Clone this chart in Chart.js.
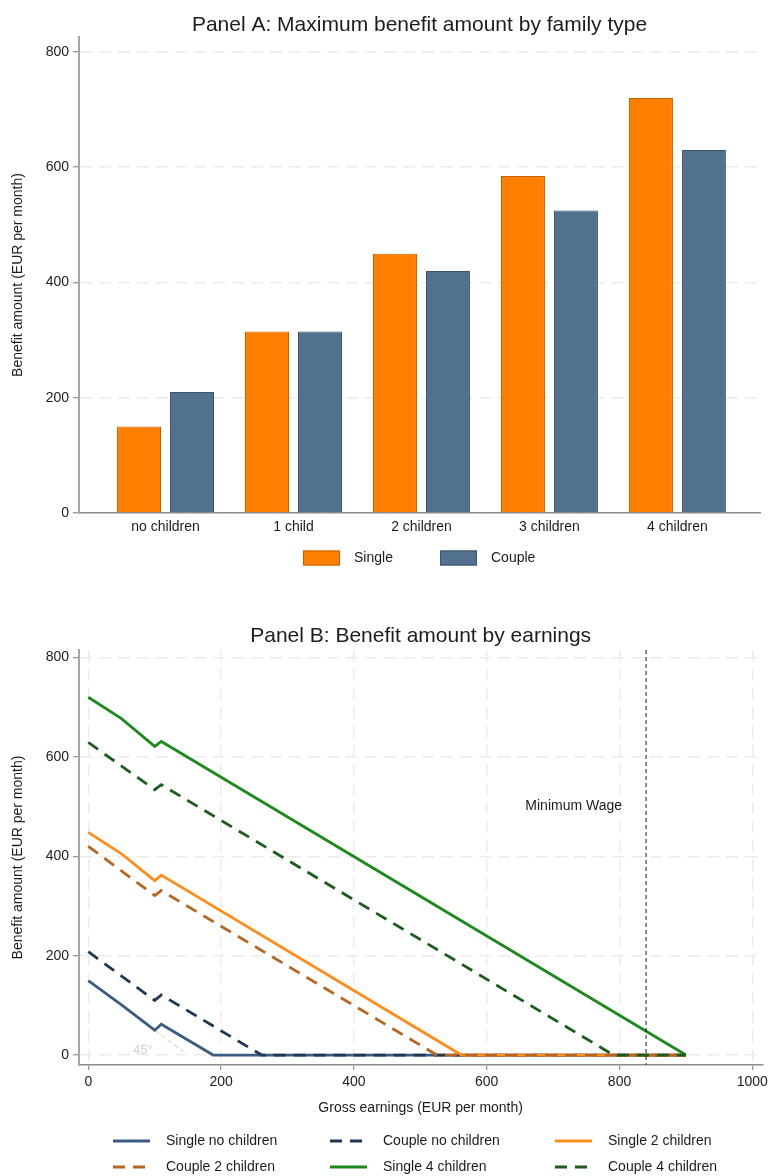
<!DOCTYPE html>
<html lang="en">
<head>
<meta charset="UTF-8">
<title>Benefit amounts</title>
<script src="https://cdn.jsdelivr.net/npm/chart.js"></script>
<style>
  body { margin: 0; background: #fff; }
  #wrap { position: relative; width: 772px; height: 1176px; overflow: hidden; }
  #panelA { position: absolute; left: 0; top: 0; }
  #panelB { position: absolute; left: 0; top: 590px; }
</style>
</head>
<body>
<div id="wrap">
  <canvas id="panelA" width="772" height="590"></canvas>
  <canvas id="panelB" width="772" height="586"></canvas>
</div>
<script>
// Panel A: maximum benefit by family type
const categories = ['no children', '1 child', '2 children', '3 children', '4 children'];
const singleMax = [150, 315, 450, 585, 720];
const coupleMax = [210, 315, 420, 525, 630];

// Panel B: benefit schedule by gross earnings (breakpoints)
const singleNoKidsX = [0, 50, 100, 110, 188, 900];
const singleNoKidsY = [150, 101, 50, 62, 0, 0];
const coupleNoKidsX = [0, 100, 110, 261, 900];
const coupleNoKidsY = [208, 110, 121, 0, 0];
const single2X = [0, 50, 100, 110, 562, 900];
const single2Y = [448, 405, 351, 362, 0, 0];
const couple2X = [0, 100, 110, 525, 900];
const couple2Y = [420, 321, 331, 0, 0];
const single4X = [0, 50, 100, 110, 900];
const single4Y = [720, 677, 621, 631, 0];
const couple4X = [0, 100, 110, 791, 900];
const couple4Y = [629, 534, 544, 0, 0];
const guideX = [100, 143];
const guideY = [50, 7];
const minWage = 840;

const benefitTicks = [0, 200, 400, 600, 800];
const earningsTicks = [0, 200, 400, 600, 800, 1000];

const fontFamily = '"Liberation Sans", Arial, sans-serif';
const textColor = '#1c1c1c';
const gridColor = '#ebebeb';
const gridDash = [12, 7];

Chart.defaults.font.family = fontFamily;
Chart.defaults.font.size = 14;
Chart.defaults.color = textColor;
Chart.defaults.animation = false;

// titles, legends, reference line and notes drawn against the chart area
const panelDecor = {
  id: 'panelDecor',
  afterDatasetsDraw(chart, args, opts) {
    const ctx = chart.ctx, area = chart.chartArea;
    const xs = chart.scales.x, ys = chart.scales.y;
    ctx.save();
    if (opts.refLine !== undefined) {
      const px = xs.getPixelForValue(opts.refLine);
      ctx.strokeStyle = '#1a1a1a';
      ctx.lineWidth = 1;
      ctx.setLineDash([4, 3]);
      ctx.beginPath();
      ctx.moveTo(px, area.top);
      ctx.lineTo(px, area.bottom);
      ctx.stroke();
      ctx.setLineDash([]);
    }
    (opts.notes || []).forEach(n => {
      ctx.font = n.size + 'px ' + fontFamily;
      ctx.fillStyle = n.color;
      ctx.textAlign = 'center';
      ctx.textBaseline = 'middle';
      ctx.fillText(n.text, xs.getPixelForValue(n.x), ys.getPixelForValue(n.y));
    });
    ctx.restore();
  },
  afterDraw(chart, args, opts) {
    const ctx = chart.ctx, area = chart.chartArea;
    ctx.save();
    ctx.textBaseline = 'middle';
    ctx.textAlign = 'center';
    ctx.fillStyle = textColor;
    ctx.font = '21px ' + fontFamily;
    ctx.fillText(opts.title, (area.left + area.right) / 2, opts.titleY);

    ctx.font = '14px ' + fontFamily;
    ctx.textAlign = 'left';
    const items = chart.data.datasets.filter(d => d.label);
    items.forEach((ds, i) => {
      const col = i % opts.columns.length;
      const row = Math.floor(i / opts.columns.length);
      const x = opts.columns[col], y = opts.rows[row];
      if (opts.swatch === 'box') {
        ctx.fillStyle = ds.backgroundColor;
        ctx.fillRect(x, y - 7.5, 37, 15);
        ctx.strokeStyle = ds.borderColor;
        ctx.lineWidth = 1;
        ctx.strokeRect(x + 0.5, y - 7, 36, 14);
      } else {
        ctx.strokeStyle = ds.borderColor;
        ctx.lineWidth = ds.borderWidth;
        ctx.setLineDash(ds.borderDash || []);
        ctx.beginPath();
        ctx.moveTo(x, y);
        ctx.lineTo(x + 37, y);
        ctx.stroke();
        ctx.setLineDash([]);
      }
      ctx.fillStyle = textColor;
      ctx.fillText(ds.label, x + opts.textGap, y);
    });
    ctx.restore();
  }
};

const yAxis = (max) => ({
  type: 'linear',
  min: 0,
  max: max,
  afterBuildTicks: s => { s.ticks = benefitTicks.map(v => ({ value: v })); },
  afterFit: s => { s.width = 79; },
  ticks: { padding: 4, color: textColor, font: { size: 14 }, callback: v => String(v) },
  grid: { color: gridColor, lineWidth: 1.5, tickLength: 6, tickColor: '#7a7a7a', tickWidth: 1 },
  border: { display: true, color: '#a6a6a6', width: 2, dash: gridDash },
  title: { display: true, text: 'Benefit amount (EUR per month)', font: { size: 14 }, padding: { top: 10, bottom: 0 } }
});

// Panel A
new Chart(document.getElementById('panelA'), {
  type: 'bar',
  data: {
    datasets: [
      {
        label: 'Single',
        data: categories.map((c, i) => ({ x: i, y: singleMax[i] })),
        backgroundColor: '#ff8000',
        borderColor: '#c26200',
        borderWidth: 1,
        barPercentage: 0.83,
        categoryPercentage: 0.828
      },
      {
        label: 'Couple',
        data: categories.map((c, i) => ({ x: i, y: coupleMax[i] })),
        backgroundColor: '#52718f',
        borderColor: '#3a5570',
        borderWidth: 1,
        barPercentage: 0.83,
        categoryPercentage: 0.828
      }
    ]
  },
  options: {
    responsive: false,
    devicePixelRatio: 1,
    layout: { padding: { top: 37, right: 12, bottom: 47, left: 0 } },
    scales: {
      x: {
        type: 'linear',
        min: -0.676,
        max: 4.645,
        offset: false,
        afterBuildTicks: s => { s.ticks = categories.map((c, i) => ({ value: i })); },
        afterFit: s => { s.height = 30; },
        ticks: { padding: 6, color: textColor, font: { size: 14 }, callback: v => categories[v] },
        grid: { display: false, drawTicks: false, offset: false },
        border: { display: true, color: '#8c8c8c', width: 1.5 }
      },
      y: yAxis(826)
    },
    plugins: {
      legend: { display: false },
      tooltip: { enabled: false },
      panelDecor: {
        title: 'Panel A: Maximum benefit amount by family type',
        titleY: 25,
        columns: [303, 440],
        rows: [558],
        swatch: 'box',
        textGap: 51
      }
    }
  },
  plugins: [panelDecor]
});

// Panel B
function series(label, xs, ys, color, dashed, order) {
  return {
    label: label,
    data: xs.map((x, i) => ({ x: x, y: ys[i] })),
    borderColor: color,
    backgroundColor: color,
    borderWidth: 2.8,
    borderDash: dashed ? [12, 8] : [],
    pointRadius: 0,
    fill: false,
    tension: 0,
    order: order
  };
}

const guide = {
  data: guideX.map((x, i) => ({ x: x, y: guideY[i] })),
  borderColor: '#dedede',
  borderWidth: 1.5,
  borderDash: [5, 3],
  pointRadius: 0,
  fill: false,
  order: 7
};

new Chart(document.getElementById('panelB'), {
  type: 'line',
  data: {
    datasets: [
      series('Single no children', singleNoKidsX, singleNoKidsY, '#3b5b80', false, 6),
      series('Couple no children', coupleNoKidsX, coupleNoKidsY, '#1f3855', true, 5),
      series('Single 2 children', single2X, single2Y, '#ff8c1a', false, 4),
      series('Couple 2 children', couple2X, couple2Y, '#b8661f', true, 3),
      series('Single 4 children', single4X, single4Y, '#1d8a1d', false, 2),
      series('Couple 4 children', couple4X, couple4Y, '#1e5c1e', true, 1),
      guide
    ]
  },
  options: {
    responsive: false,
    devicePixelRatio: 1,
    layout: { padding: { top: 60, right: 7, bottom: 59, left: 0 } },
    scales: {
      x: {
        type: 'linear',
        min: -14,
        max: 1015,
        afterBuildTicks: s => { s.ticks = earningsTicks.map(v => ({ value: v })); },
        afterFit: s => { s.height = 52; },
        ticks: { padding: 4, color: textColor, font: { size: 14 }, callback: v => String(v) },
        grid: { color: gridColor, lineWidth: 1.5, tickLength: 5, tickColor: '#7a7a7a', tickWidth: 1 },
        border: { display: true, color: '#8c8c8c', width: 1.5, dash: gridDash },
        title: { display: true, text: 'Gross earnings (EUR per month)', font: { size: 14 }, padding: { top: 4, bottom: 0 } }
      },
      y: Object.assign(yAxis(815), { min: -20 })
    },
    plugins: {
      legend: { display: false },
      tooltip: { enabled: false },
      panelDecor: {
        title: 'Panel B: Benefit amount by earnings',
        titleY: 46,
        columns: [113, 330, 555],
        rows: [551, 577],
        swatch: 'line',
        textGap: 53,
        refLine: minWage,
        notes: [
          { text: 'Minimum Wage', x: 731, y: 500, size: 14, color: textColor },
          { text: '45°', x: 82, y: 10, size: 13, color: '#d2d2d2' }
        ]
      }
    }
  },
  plugins: [panelDecor]
});
</script>
</body>
</html>
